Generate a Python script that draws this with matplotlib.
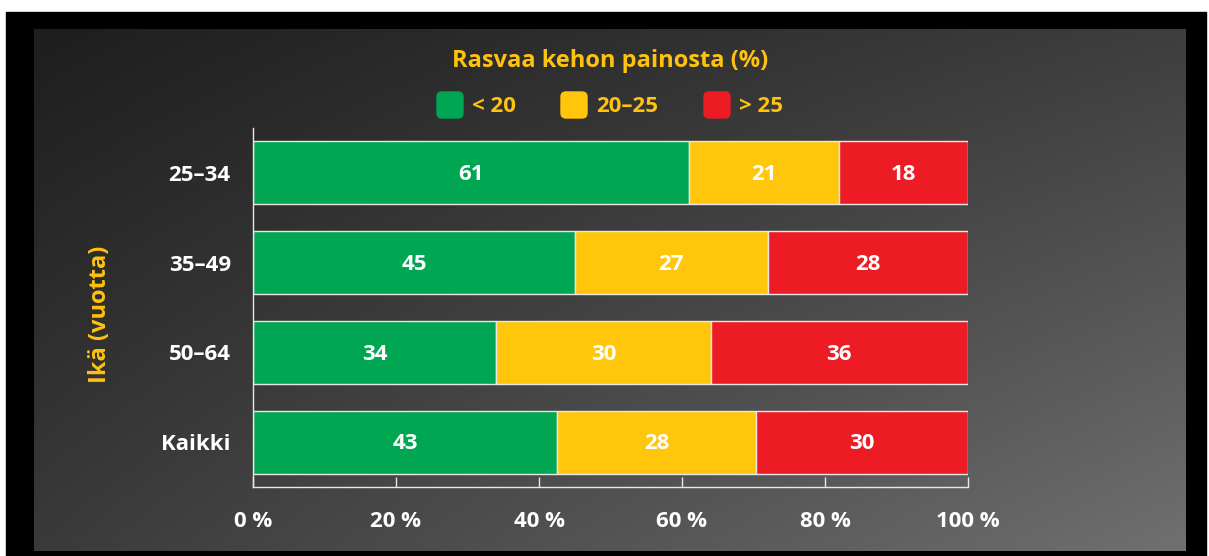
"""
Rasvaa kehon painosta (%) by age group - stacked horizontal bars on a dark
grunge-style panel.
"""

import numpy as np
import matplotlib
matplotlib.use("Agg")
import matplotlib.pyplot as plt
from matplotlib.patches import FancyBboxPatch, Rectangle

# --- data -------------------------------------------------------------------
age_groups = ["25–34", "35–49", "50–64", "Kaikki"]
series_labels = ["< 20", "20–25", "> 25"]
under_20 = [61, 45, 34, 43]
from_20_to_25 = [21, 27, 30, 28]
over_25 = [18, 28, 36, 30]
x_ticks = [0, 20, 40, 60, 80, 100]

STYLE = {
    "green": "#00a651", "yellow": "#ffc60b", "red": "#ed1c24",
    "gold": "#ffc20e", "text": "#ffffff", "frame": "#000000",
}
FONT = "Open Sans"
W, H = 1209, 556

plt.rcParams.update({"font.family": [FONT, "DejaVu Sans"], "font.weight": "bold"})

fig = plt.figure(figsize=(W / 100, H / 100), dpi=100, facecolor="white")

# --- background frame (pixel coordinates) ------------------------------------
bg = fig.add_axes([0, 0, 1, 1])
bg.set_xlim(0, W)
bg.set_ylim(H, 0)
bg.axis("off")
bg.add_patch(Rectangle((6, 12), 1200, 560, color=STYLE["frame"], zorder=0))

gx, gy = np.meshgrid(np.linspace(0, 1, 300), np.linspace(0, 1, 150))
tl, tr, bl, br = 30, 62, 58, 112
shade = (tl * (1 - gx) * (1 - gy) + tr * gx * (1 - gy)
         + bl * (1 - gx) * gy + br * gx * gy) / 255.0
bg.imshow(np.dstack([shade, shade, shade]), extent=[34, 1186, 551, 29],
          aspect="auto", interpolation="bilinear", zorder=1)

# --- chart -------------------------------------------------------------------
ax = fig.add_axes([253 / W, 1 - 487 / H, (968 - 253) / W, (487 - 128) / H])
ax.patch.set_alpha(0)

totals = np.array(under_20) + np.array(from_20_to_25) + np.array(over_25)
shares = [np.array(s) / totals * 100 for s in (under_20, from_20_to_25, over_25)]
raw = [under_20, from_20_to_25, over_25]
colors = [STYLE["green"], STYLE["yellow"], STYLE["red"]]

y = np.arange(len(age_groups))
left = np.zeros(len(age_groups))
for share, vals, col in zip(shares, raw, colors):
    bars = ax.barh(y, share, left=left, height=0.7, color=col,
                   edgecolor="#e8e8e8", linewidth=1.0)
    for b, v in zip(bars, vals):
        ax.text(b.get_x() + b.get_width() / 2, b.get_y() + b.get_height() / 2 + 0.02,
                str(v), ha="center", va="center", color=STYLE["text"],
                fontsize=16, fontweight="bold")
    left += share

ax.set_xlim(0, 100)
ax.set_ylim(3.5, -0.5)
ax.set_yticks(y)
ax.set_yticklabels(age_groups, fontsize=16, fontweight="bold", color=STYLE["text"])
ax.set_xticks(x_ticks)
ax.set_xticklabels([f"{t} %" for t in x_ticks], fontsize=16,
                   fontweight="bold", color=STYLE["text"])
ax.tick_params(axis="y", length=0, pad=16)
ax.tick_params(axis="x", direction="in", length=7, width=1, color="#e8e8e8", pad=17)
for side in ("top", "right"):
    ax.spines[side].set_visible(False)
for side in ("left", "bottom"):
    ax.spines[side].set_color("#e8e8e8")
    ax.spines[side].set_linewidth(1.0)

# --- title, legend, y label ----------------------------------------------------
bg.text(610, 61, "Rasvaa kehon painosta (%)", ha="center", va="center",
        color=STYLE["gold"], fontsize=17, fontweight="bold", zorder=5)
bg.text(100, 314, "Ikä (vuotta)", ha="center", va="center", rotation=90,
        color=STYLE["gold"], fontsize=17, fontweight="bold", zorder=5)

legend_x = [437, 561, 704]
for lx, col, lab in zip(legend_x, colors, series_labels):
    bg.add_patch(FancyBboxPatch((lx + 3, 95), 20, 20,
                                boxstyle="round,pad=3,rounding_size=5",
                                color=col, zorder=5))
    bg.text(lx + 35, 106, lab, ha="left", va="center", color=STYLE["gold"],
            fontsize=16, fontweight="bold", zorder=5)

fig.savefig("out.png", dpi=100, facecolor="white")
